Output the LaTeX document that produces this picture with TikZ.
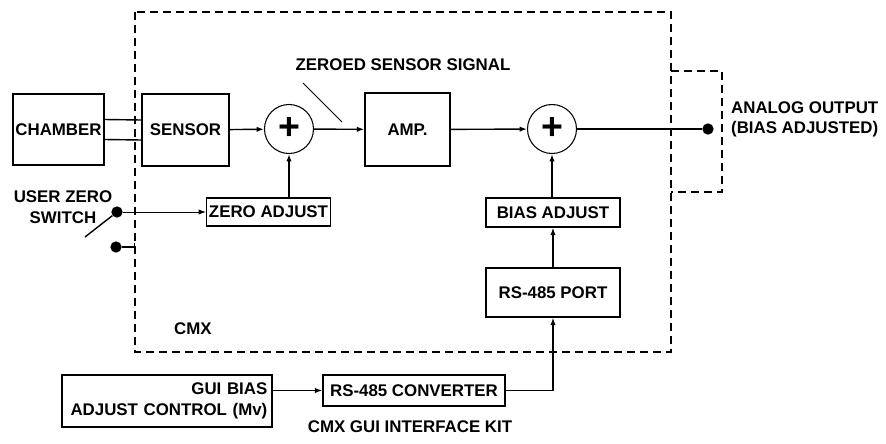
\documentclass[tikz,border=0pt]{standalone}
\usepackage{fontspec}
\setmainfont{Liberation Sans}
\usetikzlibrary{arrows.meta, positioning, calc}

\begin{document}
\begin{tikzpicture}[x=0.03cm, y=-0.03cm, >={Latex[length=2.2mm,width=1.6mm]},
  font=\fontsize{14.4}{17.5}\selectfont\bfseries,
  block/.style={draw, line width=1.2pt, inner sep=2pt},
  summer/.style={draw, circle, line width=0.9pt, minimum size=1.47cm, inner sep=0pt,
                 font=\fontsize{32}{32}\selectfont\bfseries},
  wire/.style={line width=1.2pt},
  frame/.style={line width=1.2pt, dash pattern=on 2.4mm off 1.5mm},
  dot/.style={circle, fill, inner sep=0pt, minimum size=3.4mm}]
  \useasboundingbox (0,0) rectangle (886,443);
  % CMX enclosure
  \draw[frame] (135,12) rectangle (671,352);
  \draw[frame] (671,71) -- (722,71) -- (722,192) -- (671,192);
  \node[anchor=west] (cmx) at (170,329) {CMX};

  % signal chain
  \node[block, minimum width=2.73cm, minimum height=2.13cm] (chamber) at (58.5,129.5) {CHAMBER};
  \node[block, minimum width=2.61cm, minimum height=2.16cm] (sensor) at (185.5,130) {SENSOR};
  \node[summer] (sum1) at (289,129) {+};
  \node[block, minimum width=2.55cm, minimum height=2.19cm] (amp) at (407.5,129.5) {AMP.};
  \node[summer] (sum2) at (552,129) {+};
  \node[dot] (out) at (708,129) {};
  \node[anchor=west, align=left] (outlbl) at (727,119.5) {ANALOG OUTPUT\\(BIAS ADJUSTED)};
  \node (zlbl) at (403,65) {ZEROED SENSOR SIGNAL};

  \draw[wire] ([yshift=0.3cm]chamber.east) -- ([yshift=0.3cm]sensor.west);
  \draw[wire] ([yshift=-0.3cm]chamber.east) -- ([yshift=-0.3cm]sensor.west);
  \draw[wire, ->] (sensor) -- (sum1);
  \draw[wire, ->] (sum1) -- (amp);
  \draw[wire, ->] (amp) -- (sum2);
  \draw[wire] (sum2) -- (out);
  \draw[line width=0.7pt] (303,83) -- (342,122);

  % zero adjust and switch
  \node[block, minimum width=3.69cm, minimum height=0.84cm] (zadj) at (268.5,212) {ZERO ADJUST};
  \node[align=center] (swlbl) at (63,207) {USER ZERO\\SWITCH};
  \node[dot] (swon) at (117,212) {};
  \node[dot] (swoff) at (116,247) {};
  \coordinate (blade) at (85,237);
  \coordinate (swend) at (135,247);
  \draw[wire] (blade) -- (swon);
  \draw[wire, -{Bar[width=2.5mm]}] (swoff) -- (swend);
  \draw[line width=0.7pt, ->] (swon) -- (zadj.west |- swon);
  \draw[wire, ->] (zadj.north -| sum1) -- (sum1);

  % bias path
  \node[block, minimum width=4.02cm, minimum height=0.87cm] (bias) at (553,212.5) {BIAS ADJUST};
  \node[block, minimum width=4.02cm, minimum height=1.47cm] (port) at (553,292.5) {RS-485 PORT};
  \draw[wire, ->] (bias.north -| sum2) -- (sum2);
  \draw[wire, ->] (port) -- (bias);

  % GUI interface kit
  \node[block, inner sep=4pt, text width=6.02cm, minimum height=1.56cm, align=right] (gui) at (167,401) {GUI BIAS\\ADJUST CONTROL (Mv)};
  \node[block, minimum width=5.46cm, minimum height=0.93cm] (conv) at (414,390.5) {RS-485 CONVERTER};
  \node (kit) at (410,427) {CMX GUI INTERFACE KIT};
  \draw[wire, ->] (gui.east |- conv) -- (conv);
  \draw[wire, ->] (conv.east) -| (port.south);
\end{tikzpicture}
\end{document}
